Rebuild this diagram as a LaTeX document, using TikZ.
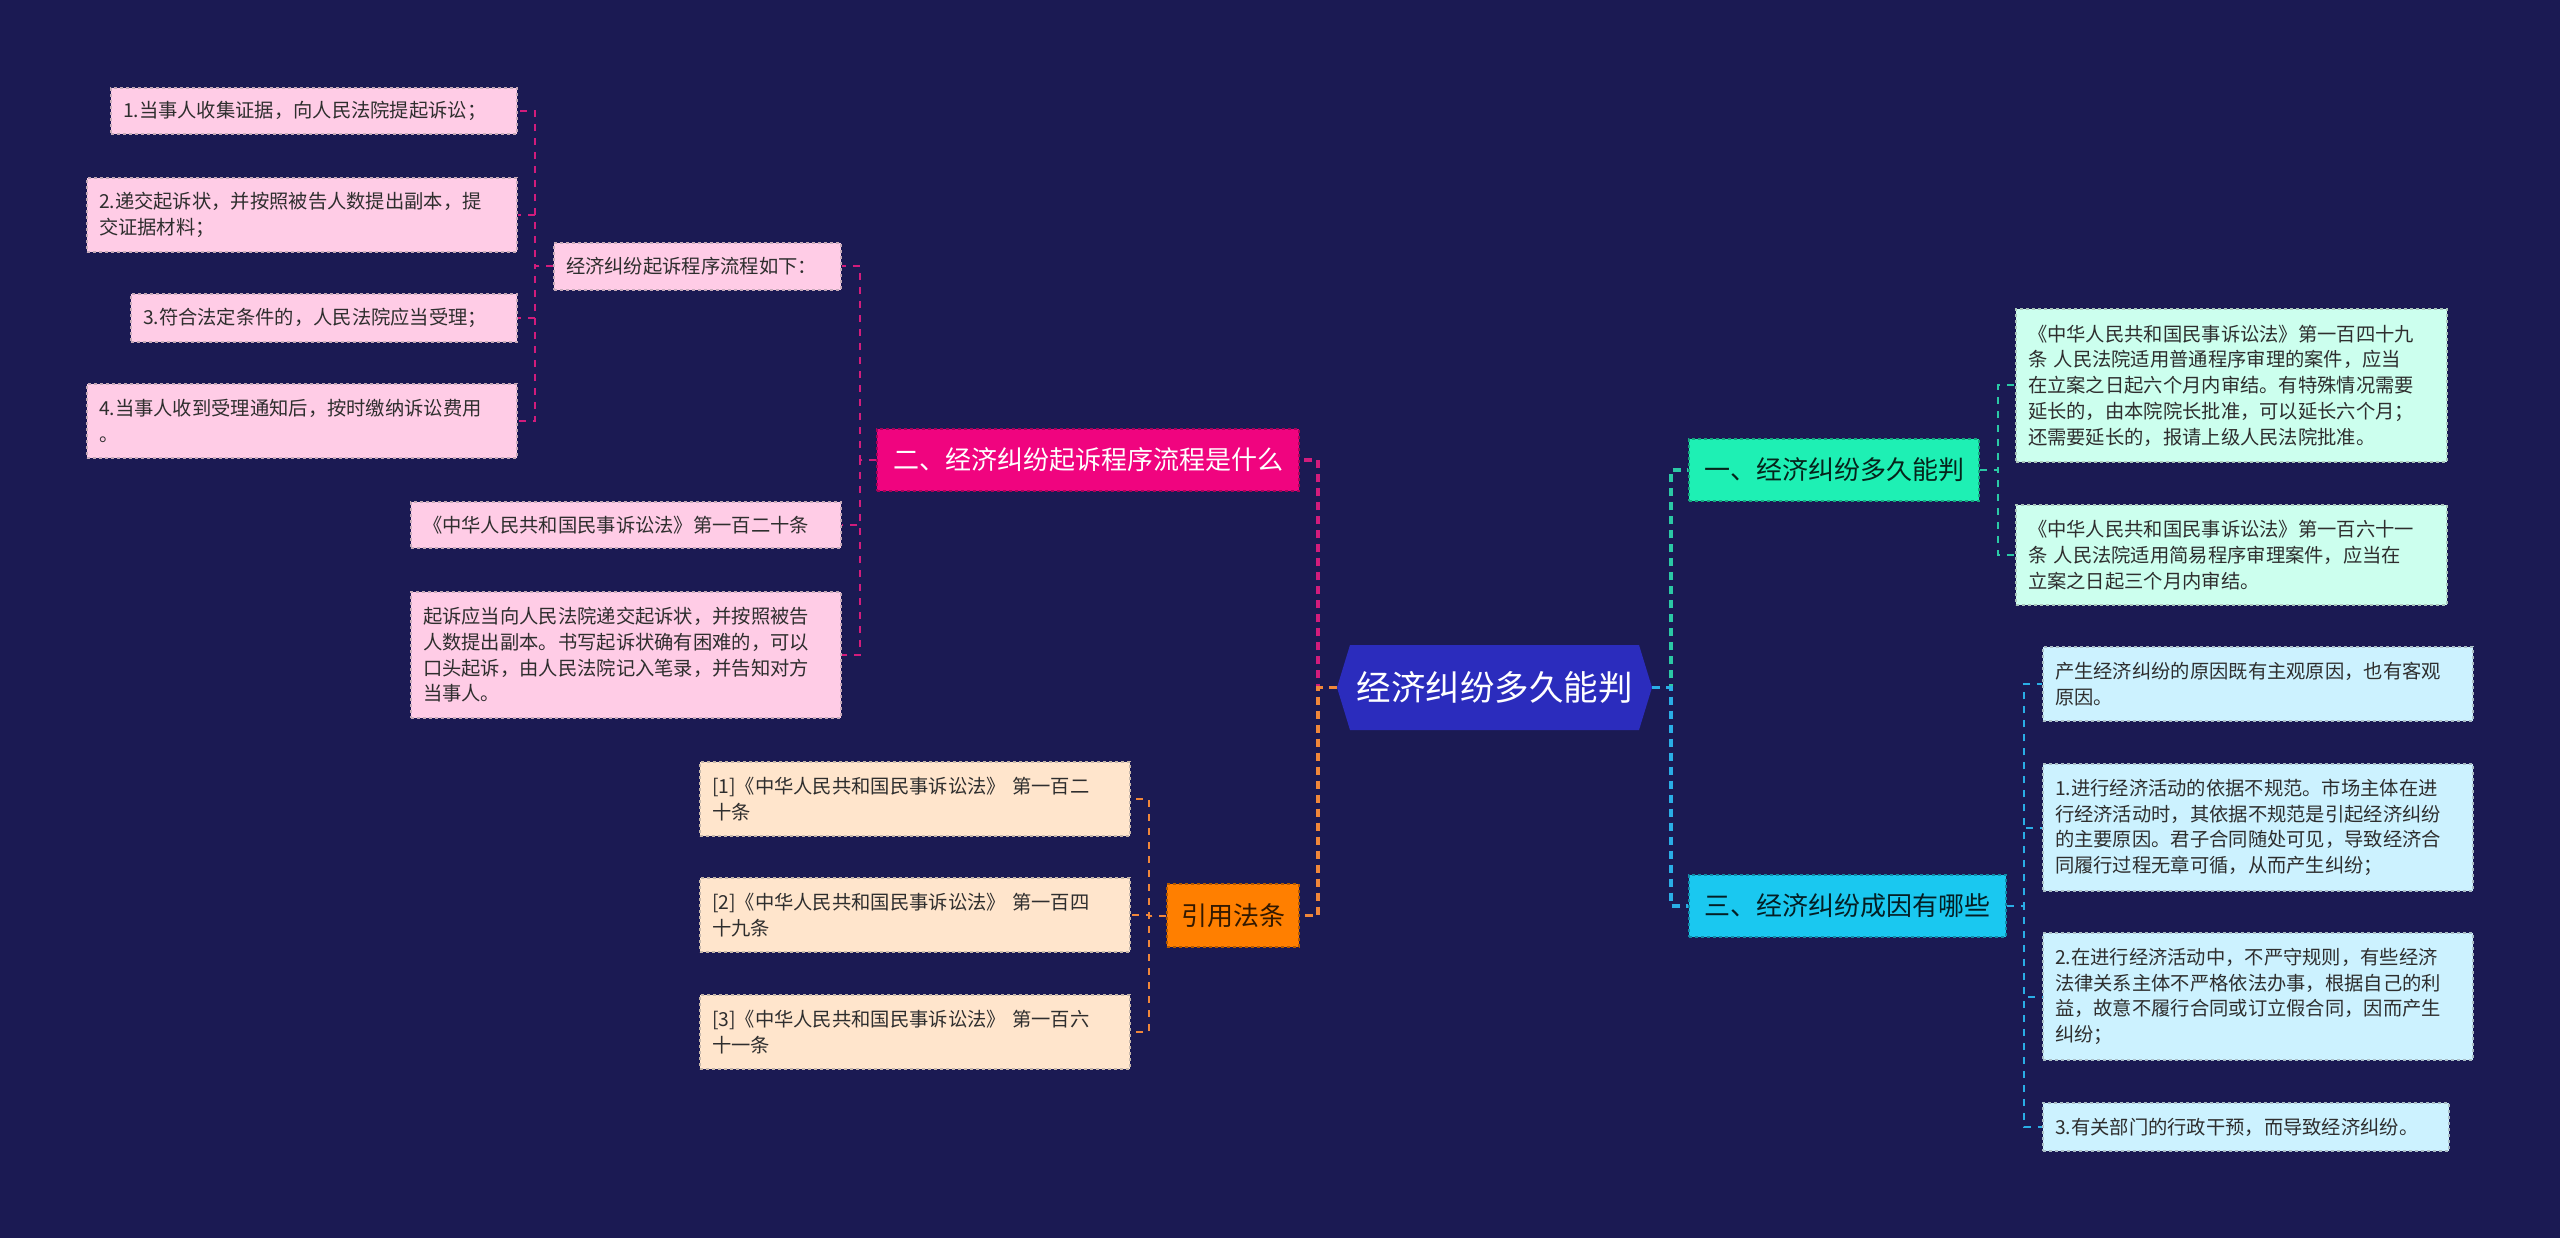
\documentclass[tikz,border=0pt]{standalone}
\usepackage{fontspec}
\newfontfamily\cjk{Noto Sans CJK SC}
\usetikzlibrary{shapes.symbols}
\definecolor{sfondo}{HTML}{1B1A53}
\definecolor{radice}{HTML}{2B2CBD}
\definecolor{scuro}{HTML}{2E2E2E}
\definecolor{rosaA}{HTML}{F0047F}
\definecolor{rosaB}{HTML}{FFCCE6}
\definecolor{rosaL}{HTML}{D21C7C}
\definecolor{aranA}{HTML}{FF7F00}
\definecolor{aranB}{HTML}{FFE5CC}
\definecolor{aranL}{HTML}{F0873A}
\definecolor{acquaA}{HTML}{1EF0B4}
\definecolor{acquaB}{HTML}{CCFFEE}
\definecolor{acquaL}{HTML}{2BC9A5}
\definecolor{cieloA}{HTML}{1AC8F0}
\definecolor{cieloB}{HTML}{CCF2FF}
\definecolor{cieloL}{HTML}{2AAEE6}
\begin{document}
\begin{tikzpicture}[x=1pt,y=-1pt,
    foglia/.style={draw=#1, dashed, line width=1.3pt, align=left, inner xsep=12pt, inner ysep=0pt, text=scuro, font=\cjk\fontsize{19.3}{25.7}\selectfont},
    ramo/.style={draw=#1, dashed, line width=1.5pt, inner sep=0pt, minimum height=62pt, font=\cjk\fontsize{26}{30}\selectfont},
    alto/.style={line width=3.5pt, dash pattern=on 8pt off 6pt},
    basso/.style={line width=2pt, dash pattern=on 7pt off 7pt}]
    \fill[sfondo] (0,0) rectangle (2560,1238);
    %nodo centrale
    \node[shape=signal, signal to=east and west, signal pointer angle=146, fill=radice, minimum width=315pt, minimum height=85pt, inner sep=0pt, text=white, font=\cjk\fontsize{34.5}{40}\selectfont] (root) at (1494.5,687.5) {经济纠纷多久能判};
    \coordinate (kl) at (1318,687.5);
    \coordinate (kr) at (1671,687.5);
    %ramo 2 (rosa)
    \node[ramo=rosaA!70!black, fill=rosaA, text=white, minimum width=422pt] (b2) at (1088,460) {二、经济纠纷起诉程序流程是什么};
    \coordinate (k2) at (860,460);
    \node[foglia=rosaB!55!gray, fill=rosaB, text width=263pt, minimum height=47pt] (p1) at (697.5,266.5) {经济纠纷起诉程序流程如下：};
    \node[foglia=rosaB!55!gray, fill=rosaB, text width=406pt, minimum height=46pt] (p2) at (626,525) {《中华人民共和国民事诉讼法》第一百二十条};
    \node[foglia=rosaB!55!gray, fill=rosaB, text width=406pt, minimum height=126pt] (p3) at (626,655) {起诉应当向人民法院递交起诉状，并按照被告\\人数提出副本。书写起诉状确有困难的，可以\\口头起诉，由人民法院记入笔录，并告知对方\\当事人。};
    \coordinate (kp) at (535,266.5);
    \node[foglia=rosaB!55!gray, fill=rosaB, text width=382pt, minimum height=46pt] (l1) at (314,111) {1.当事人收集证据，向人民法院提起诉讼；};
    \node[foglia=rosaB!55!gray, fill=rosaB, text width=406pt, minimum height=74pt] (l2) at (302,215) {2.递交起诉状，并按照被告人数提出副本，提\\交证据材料；};
    \node[foglia=rosaB!55!gray, fill=rosaB, text width=362pt, minimum height=48pt] (l3) at (324,318) {3.符合法定条件的，人民法院应当受理；};
    \node[foglia=rosaB!55!gray, fill=rosaB, text width=406pt, minimum height=74pt] (l4) at (302,421) {4.当事人收到受理通知后，按时缴纳诉讼费用\\。};
    %ramo 4 (arancio)
    \node[ramo=aranA!70!black, fill=aranA, text=aranA!20!black, minimum width=132pt, minimum height=63pt] (b4) at (1233,915.5) {引用法条};
    \coordinate (k4) at (1149,915.5);
    \node[foglia=aranB!55!gray, fill=aranB, text width=406pt, minimum height=74pt] (c1) at (915,799) {[1]《中华人民共和国民事诉讼法》 第一百二\\十条};
    \node[foglia=aranB!55!gray, fill=aranB, text width=406pt, minimum height=74pt] (c2) at (915,915) {[2]《中华人民共和国民事诉讼法》 第一百四\\十九条};
    \node[foglia=aranB!55!gray, fill=aranB, text width=406pt, minimum height=74pt] (c3) at (915,1032) {[3]《中华人民共和国民事诉讼法》 第一百六\\十一条};
    %ramo 1 (acqua)
    \node[ramo=acquaA!70!black, fill=acquaA, text=acquaA!15!black, minimum width=290pt] (b1) at (1834,470) {一、经济纠纷多久能判};
    \coordinate (k1) at (1998,470);
    \node[foglia=acquaB!55!gray, fill=acquaB, text width=407pt, minimum height=153pt] (r1) at (2231.5,385.5) {《中华人民共和国民事诉讼法》第一百四十九\\条 人民法院适用普通程序审理的案件，应当\\在立案之日起六个月内审结。有特殊情况需要\\延长的，由本院院长批准，可以延长六个月；\\还需要延长的，报请上级人民法院批准。};
    \node[foglia=acquaB!55!gray, fill=acquaB, text width=407pt, minimum height=100pt] (r2) at (2231.5,555) {《中华人民共和国民事诉讼法》第一百六十一\\条 人民法院适用简易程序审理案件，应当在\\立案之日起三个月内审结。};
    %ramo 3 (cielo)
    \node[ramo=cieloA!70!black, fill=cieloA, text=cieloA!15!black, minimum width=317pt] (b3) at (1847.5,906) {三、经济纠纷成因有哪些};
    \coordinate (k3) at (2024,906);
    \node[foglia=cieloB!55!gray, fill=cieloB, text width=406pt, minimum height=74pt] (s1) at (2258,684) {产生经济纠纷的原因既有主观原因，也有客观\\原因。};
    \node[foglia=cieloB!55!gray, fill=cieloB, text width=406pt, minimum height=127pt] (s2) at (2258,827.5) {1.进行经济活动的依据不规范。市场主体在进\\行经济活动时，其依据不规范是引起经济纠纷\\的主要原因。君子合同随处可见，导致经济合\\同履行过程无章可循，从而产生纠纷；};
    \node[foglia=cieloB!55!gray, fill=cieloB, text width=406pt, minimum height=127pt] (s3) at (2258,996.5) {2.在进行经济活动中，不严守规则，有些经济\\法律关系主体不严格依法办事，根据自己的利\\益，故意不履行合同或订立假合同，因而产生\\纠纷；};
    \node[foglia=cieloB!55!gray, fill=cieloB, text width=382pt, minimum height=48pt] (s4) at (2246,1127) {3.有关部门的行政干预，而导致经济纠纷。};
    %collegamenti
    \draw[alto, rosaL] (root.west) -- (kl) |- (b2.east);
    \draw[alto, aranL] (root.west) -- (kl) |- (b4.east);
    \draw[alto, acquaL] (root.east) -- (kr) |- (b1.west);
    \draw[alto, cieloL] (root.east) -- (kr) |- (b3.west);
    \foreach \n in {p1,p2,p3} \draw[basso, rosaL] (b2.west) -- (k2) |- (\n.east);
    \foreach \n in {l1,l2,l3,l4} \draw[basso, rosaL] (p1.west) -- (kp) |- (\n.east);
    \foreach \n in {c1,c2,c3} \draw[basso, aranL] (b4.west) -- (k4) |- (\n.east);
    \foreach \n in {r1,r2} \draw[basso, acquaL] (b1.east) -- (k1) |- (\n.west);
    \foreach \n in {s1,s2,s3,s4} \draw[basso, cieloL] (b3.east) -- (k3) |- (\n.west);
\end{tikzpicture}
\end{document}
